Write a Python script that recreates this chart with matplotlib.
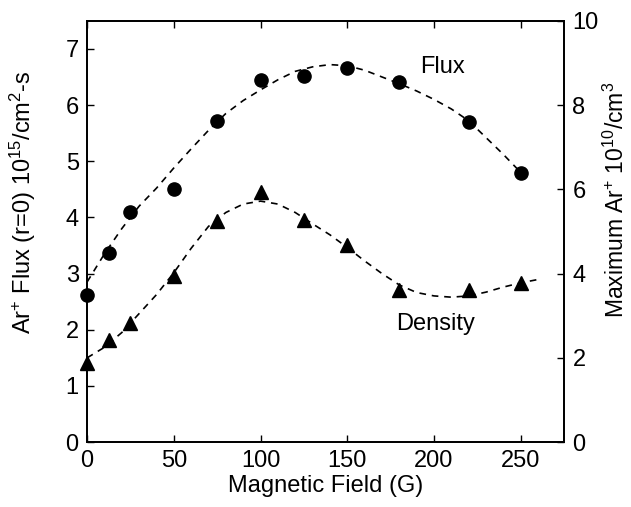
import numpy as np
import matplotlib
matplotlib.use("Agg")
from matplotlib import pyplot as plt

plt.rcParams['font.family'] = ['Liberation Sans', 'DejaVu Sans']
plt.rcParams['mathtext.default'] = 'regular'

# measured points
field = [0, 12.5, 25, 50, 75, 100, 125, 150, 180, 220, 250]
flux = [2.62, 3.37, 4.09, 4.50, 5.71, 6.45, 6.52, 6.66, 6.41, 5.70, 4.79]
density = [1.87, 2.42, 2.83, 3.94, 5.25, 5.94, 5.27, 4.68, 3.61, 3.61, 3.78]

# dashed fit curves
fit_flux_x = [0, 10, 20, 30, 40, 50, 60, 70, 80, 90, 100, 110, 120, 130, 140,
              150, 160, 170, 180, 190, 200, 210, 220, 230, 240, 250]
fit_flux_y = [2.85, 3.35, 3.80, 4.20, 4.52, 4.88, 5.22, 5.55, 5.85, 6.08, 6.27,
              6.45, 6.60, 6.68, 6.72, 6.70, 6.62, 6.50, 6.38, 6.25, 6.10, 5.93,
              5.72, 5.42, 5.12, 4.80]
fit_dens_x = [0, 10, 20, 30, 40, 50, 60, 70, 80, 90, 100, 110, 120, 130, 140,
              150, 160, 170, 180, 190, 200, 210, 220, 230, 240, 250, 260]
fit_dens_y = [2.00, 2.25, 2.60, 3.05, 3.50, 4.02, 4.60, 5.12, 5.45, 5.65, 5.72,
              5.65, 5.45, 5.18, 4.92, 4.62, 4.30, 4.00, 3.73, 3.55, 3.47, 3.44,
              3.47, 3.56, 3.68, 3.78, 3.86]

fig = plt.figure(figsize=(6.31, 5.07), dpi=100)
ax = fig.add_axes([0.138, 0.128, 0.756, 0.831])
ax2 = ax.twinx()

ax.plot(fit_flux_x, fit_flux_y, color='k', lw=1.2, dashes=(4, 3.5))
ax.plot(field, flux, 'o', color='k', ms=9.5, clip_on=False)
ax2.plot(fit_dens_x, fit_dens_y, color='k', lw=1.2, dashes=(4, 3.5))
ax2.plot(field, density, '^', color='k', ms=10.5, clip_on=False)

ax.set_xlim(0, 275)
ax.set_ylim(0, 7.5)
ax2.set_ylim(0, 10)
ax.set_xticks([0, 50, 100, 150, 200, 250])
ax.set_yticks(range(8))
ax2.set_yticks([0, 2, 4, 6, 8, 10])

ax.tick_params(direction='in', labelsize=17, length=5, width=1, top=True, pad=6)
ax2.tick_params(direction='in', labelsize=17, length=5, width=1, pad=6)
for a in (ax, ax2):
    for s in a.spines.values():
        s.set_linewidth(1.3)

ax.set_xlabel('Magnetic Field (G)', fontsize=17, labelpad=2)
ax.set_ylabel('Ar$^{+}$ Flux (r=0) 10$^{15}$/cm$^{2}$-s', fontsize=17)
ax2.set_ylabel('Maximum Ar$^{+}$ 10$^{10}$/cm$^{3}$', fontsize=16.5)
ax.yaxis.set_label_coords(-0.103, 0.57)
ax2.yaxis.set_label_coords(1.083, 0.575)

ax.text(192, 6.68, 'Flux', fontsize=17, ha='left', va='center')
ax.text(178, 2.1, 'Density', fontsize=17, ha='left', va='center')

fig.savefig('out.png', dpi=100)
